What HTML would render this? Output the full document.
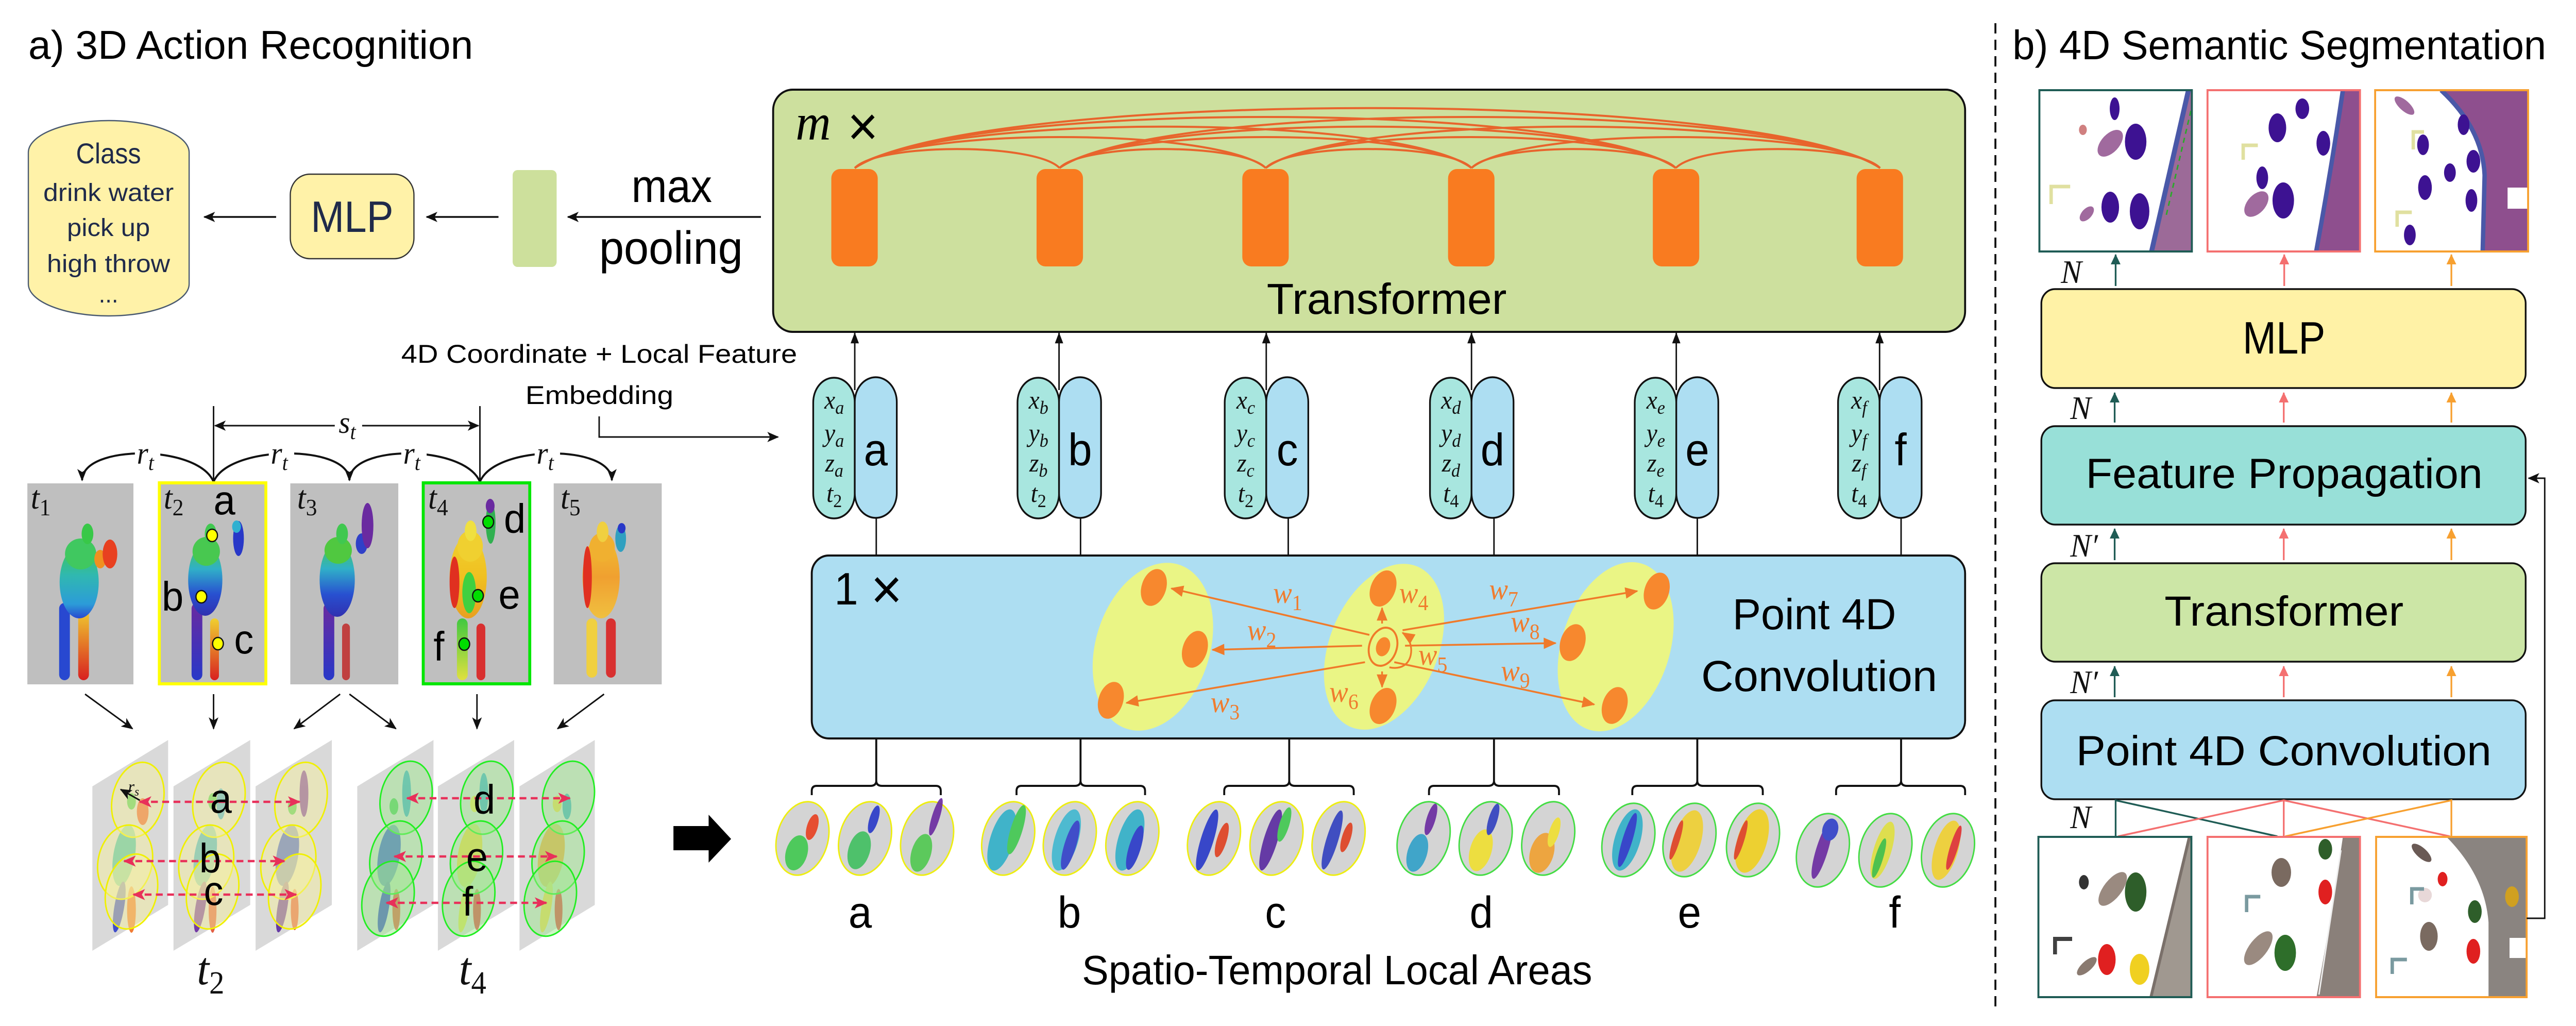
<!DOCTYPE html>
<html><head><meta charset="utf-8">
<style>
html,body{margin:0;padding:0;background:#fff;width:100%;height:100%;overflow:hidden;}
svg{display:block;width:100vw;height:100vh;}
.s{font-family:"Liberation Sans",sans-serif;}
.m{font-family:"Liberation Serif",serif;font-style:italic;}
</style></head><body>
<svg viewBox="0 0 5271 1991" preserveAspectRatio="none" xmlns="http://www.w3.org/2000/svg">
<defs>
<marker id="bk" viewBox="0 0 24 20" refX="22" refY="10" markerWidth="24" markerHeight="20" markerUnits="userSpaceOnUse" orient="auto-start-reverse"><path d="M0,0 L24,10 L0,20 L6,10z" fill="#111"/></marker>
<marker id="tri" viewBox="0 0 20 16" refX="19" refY="8" markerWidth="22" markerHeight="17" markerUnits="userSpaceOnUse" orient="auto"><path d="M0,0 L20,8 L0,16z" fill="#111"/></marker>
<marker id="rd" viewBox="0 0 24 20" refX="22" refY="10" markerWidth="26" markerHeight="22" markerUnits="userSpaceOnUse" orient="auto-start-reverse"><path d="M0,0 L24,10 L0,20 L6,10z" fill="#E8305A"/></marker>
<marker id="or" viewBox="0 0 24 20" refX="22" refY="10" markerWidth="28" markerHeight="22" markerUnits="userSpaceOnUse" orient="auto"><path d="M0,0 L24,10 L0,20z" fill="#F07A2A"/></marker>
<marker id="cT" viewBox="0 0 20 20" refX="19" refY="10" markerWidth="20" markerHeight="20" markerUnits="userSpaceOnUse" orient="auto"><path d="M0,0 L20,10 L0,20z" fill="#1F5C55"/></marker>
<marker id="cS" viewBox="0 0 20 20" refX="19" refY="10" markerWidth="20" markerHeight="20" markerUnits="userSpaceOnUse" orient="auto"><path d="M0,0 L20,10 L0,20z" fill="#F47070"/></marker>
<marker id="cO" viewBox="0 0 20 20" refX="19" refY="10" markerWidth="20" markerHeight="20" markerUnits="userSpaceOnUse" orient="auto"><path d="M0,0 L20,10 L0,20z" fill="#F7A030"/></marker>
<linearGradient id="gT1" x1="0" y1="0" x2="0" y2="1"><stop offset="0" stop-color="#40C850"/><stop offset="0.4" stop-color="#30B8B0"/><stop offset="0.8" stop-color="#2C9CD8"/><stop offset="1" stop-color="#2848D0"/></linearGradient>
<linearGradient id="gT2" x1="0" y1="0" x2="0" y2="1"><stop offset="0" stop-color="#48C850"/><stop offset="0.35" stop-color="#30B0C8"/><stop offset="0.7" stop-color="#2850D0"/><stop offset="1" stop-color="#3030B0"/></linearGradient>
<linearGradient id="gT4" x1="0" y1="0" x2="0" y2="1"><stop offset="0" stop-color="#F0D030"/><stop offset="0.5" stop-color="#F0C020"/><stop offset="1" stop-color="#E8A020"/></linearGradient>
<linearGradient id="gT5" x1="0" y1="0" x2="0" y2="1"><stop offset="0" stop-color="#F0C030"/><stop offset="0.5" stop-color="#F0A030"/><stop offset="1" stop-color="#F0C040"/></linearGradient>
<linearGradient id="gPB" x1="0" y1="0" x2="0" y2="1"><stop offset="0" stop-color="#6A2AA0"/><stop offset="1" stop-color="#2838C8"/></linearGradient>
<linearGradient id="gYR" x1="0" y1="0" x2="0" y2="1"><stop offset="0" stop-color="#F0D030"/><stop offset="1" stop-color="#D82020"/></linearGradient>
<linearGradient id="gGY" x1="0" y1="0" x2="0" y2="1"><stop offset="0" stop-color="#40C840"/><stop offset="1" stop-color="#E0E040"/></linearGradient>
<clipPath id="ci1"><rect x="4173" y="175" width="312" height="313"/></clipPath>
<clipPath id="ci2"><rect x="4517" y="175" width="312" height="313"/></clipPath>
<clipPath id="ci3"><rect x="4860" y="175" width="313" height="313"/></clipPath>
<clipPath id="ci4"><rect x="4171" y="1624" width="313" height="311"/></clipPath>
<clipPath id="ci5"><rect x="4517" y="1624" width="312" height="311"/></clipPath>
<clipPath id="ci6"><rect x="4862" y="1624" width="308" height="311"/></clipPath>
</defs>

<rect x="0" y="0" width="5271" height="1991" fill="#fff"/>

<!-- ===== a) title ===== -->
<text class="s" x="58" y="114" font-size="78" textLength="910" lengthAdjust="spacingAndGlyphs">a) 3D Action Recognition</text>

<!-- Class box -->
<rect x="58" y="234" width="329" height="379" rx="164" ry="62" fill="#FFF2A8" stroke="#4A5A70" stroke-width="2.5"/>
<g class="s" fill="#1F2A4A" text-anchor="middle">
<text x="222" y="317" font-size="56" textLength="133" lengthAdjust="spacingAndGlyphs">Class</text>
<text x="222" y="390" font-size="48" textLength="267" lengthAdjust="spacingAndGlyphs">drink water</text>
<text x="222" y="458" font-size="48" textLength="170" lengthAdjust="spacingAndGlyphs">pick up</text>
<text x="222" y="528" font-size="48" textLength="252" lengthAdjust="spacingAndGlyphs">high throw</text>
<text x="222" y="587" font-size="48">...</text>
</g>
<!-- MLP -->
<rect x="594" y="338" width="253" height="164" rx="40" fill="#FFF2A8" stroke="#333" stroke-width="2.5"/>
<text class="s" x="636" y="450" font-size="85" fill="#1F2A4A" textLength="169" lengthAdjust="spacingAndGlyphs">MLP</text>
<line x1="565" y1="421" x2="418" y2="421" stroke="#111" stroke-width="3.5" marker-end="url(#bk)"/>
<rect x="1049" y="330" width="90" height="188" rx="10" fill="#CDE09C"/>
<line x1="1020" y1="421" x2="873" y2="421" stroke="#111" stroke-width="3.5" marker-end="url(#bk)"/>
<line x1="1557" y1="421" x2="1162" y2="421" stroke="#111" stroke-width="3.5" marker-end="url(#bk)"/>
<text class="s" x="1292" y="392" font-size="90" textLength="165" lengthAdjust="spacingAndGlyphs">max</text>
<text class="s" x="1226" y="512" font-size="90" textLength="294" lengthAdjust="spacingAndGlyphs">pooling</text>

<!-- ===== Transformer (main) ===== -->
<rect x="1582" y="174" width="2439" height="470" rx="40" fill="#CDE09E" stroke="#111" stroke-width="4"/>
<text class="m" x="1628" y="271" font-size="100">m</text>
<text class="s" x="1734" y="282" font-size="108">×</text>
<g fill="none" stroke="#E8642C" stroke-width="4">
<path d="M1749,326 C1799,277 2118,277 2168,326"/>
<path d="M2168,326 C2218,277 2540,277 2590,326"/>
<path d="M2590,326 C2640,277 2961,277 3011,326"/>
<path d="M3011,326 C3061,277 3379,277 3429,326"/>
<path d="M3429,326 C3479,277 3797,277 3847,326"/>
<path d="M1749,326 C1849,246 2490,246 2590,326"/>
<path d="M2168,326 C2268,246 2911,246 3011,326"/>
<path d="M2590,326 C2690,246 3329,246 3429,326"/>
<path d="M3011,326 C3111,246 3747,246 3847,326"/>
<path d="M1749,326 C1899,219 2861,219 3011,326"/>
<path d="M2168,326 C2318,219 3279,219 3429,326"/>
<path d="M2590,326 C2740,219 3697,219 3847,326"/>
<path d="M1749,326 C1949,194 3229,194 3429,326"/>
<path d="M2168,326 C2368,194 3647,194 3847,326"/>
<path d="M1749,326 C1999,171 3597,171 3847,326"/>
</g>
<g fill="#F97B20">
<rect x="1701" y="328" width="95" height="189" rx="18"/>
<rect x="2121" y="328" width="95" height="189" rx="18"/>
<rect x="2542" y="328" width="95" height="189" rx="18"/>
<rect x="2963" y="328" width="95" height="189" rx="18"/>
<rect x="3382" y="328" width="95" height="189" rx="18"/>
<rect x="3799" y="328" width="95" height="189" rx="18"/>
</g>
<text class="s" x="2592" y="609" font-size="84" textLength="491" lengthAdjust="spacingAndGlyphs">Transformer</text>

<!-- 4D coordinate embedding label -->
<text class="s" x="821" y="704" font-size="50" textLength="810" lengthAdjust="spacingAndGlyphs">4D Coordinate + Local Feature</text>
<text class="s" x="1075" y="784" font-size="50" textLength="303" lengthAdjust="spacingAndGlyphs">Embedding</text>
<path d="M1226,808 V848 H1592" fill="none" stroke="#111" stroke-width="3" marker-end="url(#bk)"/>

<!-- ===== Embedding columns ===== -->
<g stroke="#111" stroke-width="3">
<line x1="1749" y1="757" x2="1749" y2="646" marker-end="url(#tri)"/>
<line x1="2167" y1="757" x2="2167" y2="646" marker-end="url(#tri)"/>
<line x1="2591" y1="757" x2="2591" y2="646" marker-end="url(#tri)"/>
<line x1="3011" y1="757" x2="3011" y2="646" marker-end="url(#tri)"/>
<line x1="3430" y1="757" x2="3430" y2="646" marker-end="url(#tri)"/>
<line x1="3846" y1="757" x2="3846" y2="646" marker-end="url(#tri)"/>
<line x1="1793" y1="1005" x2="1793" y2="1078"/>
<line x1="2211" y1="1005" x2="2211" y2="1078"/>
<line x1="2636" y1="1005" x2="2636" y2="1078"/>
<line x1="3057" y1="1005" x2="3057" y2="1078"/>
<line x1="3473" y1="1005" x2="3473" y2="1078"/>
<line x1="3890" y1="1005" x2="3890" y2="1078"/>
</g>
<g stroke="#111" stroke-width="3.5">
<rect x="1664" y="733" width="85" height="273" rx="42" ry="48" fill="#A8E6DF"/>
<rect x="1749" y="732" width="86" height="273" rx="43" ry="48" fill="#ADDEF2"/>
<rect x="2082" y="733" width="85" height="273" rx="42" ry="48" fill="#A8E6DF"/>
<rect x="2167" y="732" width="86" height="273" rx="43" ry="48" fill="#ADDEF2"/>
<rect x="2506" y="733" width="85" height="273" rx="42" ry="48" fill="#A8E6DF"/>
<rect x="2591" y="732" width="86" height="273" rx="43" ry="48" fill="#ADDEF2"/>
<rect x="2926" y="733" width="85" height="273" rx="42" ry="48" fill="#A8E6DF"/>
<rect x="3011" y="732" width="86" height="273" rx="43" ry="48" fill="#ADDEF2"/>
<rect x="3345" y="733" width="85" height="273" rx="42" ry="48" fill="#A8E6DF"/>
<rect x="3430" y="732" width="86" height="273" rx="43" ry="48" fill="#ADDEF2"/>
<rect x="3761" y="733" width="85" height="273" rx="42" ry="48" fill="#A8E6DF"/>
<rect x="3846" y="732" width="86" height="273" rx="43" ry="48" fill="#ADDEF2"/>
</g>
<g class="s" font-size="88" text-anchor="middle" fill="#000">
<text x="1792" y="903">a</text>
<text x="2210" y="903">b</text>
<text x="2634" y="903">c</text>
<text x="3054" y="903">d</text>
<text x="3473" y="903">e</text>
<text x="3889" y="903">f</text>
</g>
<g class="m" font-size="50" text-anchor="middle" fill="#111">
<text x="1707" y="793">x<tspan font-size="36" dy="10">a</tspan></text>
<text x="1707" y="857">y<tspan font-size="36" dy="10">a</tspan></text>
<text x="1707" y="915">z<tspan font-size="36" dy="10">a</tspan></text>
<text x="1707" y="974">t<tspan font-size="36" dy="10" font-style="normal">2</tspan></text>
<text x="2125" y="793">x<tspan font-size="36" dy="10">b</tspan></text>
<text x="2125" y="857">y<tspan font-size="36" dy="10">b</tspan></text>
<text x="2125" y="915">z<tspan font-size="36" dy="10">b</tspan></text>
<text x="2125" y="974">t<tspan font-size="36" dy="10" font-style="normal">2</tspan></text>
<text x="2549" y="793">x<tspan font-size="36" dy="10">c</tspan></text>
<text x="2549" y="857">y<tspan font-size="36" dy="10">c</tspan></text>
<text x="2549" y="915">z<tspan font-size="36" dy="10">c</tspan></text>
<text x="2549" y="974">t<tspan font-size="36" dy="10" font-style="normal">2</tspan></text>
<text x="2969" y="793">x<tspan font-size="36" dy="10">d</tspan></text>
<text x="2969" y="857">y<tspan font-size="36" dy="10">d</tspan></text>
<text x="2969" y="915">z<tspan font-size="36" dy="10">d</tspan></text>
<text x="2969" y="974">t<tspan font-size="36" dy="10" font-style="normal">4</tspan></text>
<text x="3388" y="793">x<tspan font-size="36" dy="10">e</tspan></text>
<text x="3388" y="857">y<tspan font-size="36" dy="10">e</tspan></text>
<text x="3388" y="915">z<tspan font-size="36" dy="10">e</tspan></text>
<text x="3388" y="974">t<tspan font-size="36" dy="10" font-style="normal">4</tspan></text>
<text x="3804" y="793">x<tspan font-size="36" dy="10">f</tspan></text>
<text x="3804" y="857">y<tspan font-size="36" dy="10">f</tspan></text>
<text x="3804" y="915">z<tspan font-size="36" dy="10">f</tspan></text>
<text x="3804" y="974">t<tspan font-size="36" dy="10" font-style="normal">4</tspan></text>
</g>

<!-- ===== Point 4D Convolution (main) ===== -->
<rect x="1661" y="1078" width="2360" height="355" rx="35" fill="#ADDEF2" stroke="#111" stroke-width="4"/>
<text class="s" x="1707" y="1173" font-size="88">1</text>
<text class="s" x="1782" y="1181" font-size="110">×</text>
<ellipse cx="2359" cy="1255" rx="116" ry="168" transform="rotate(20 2359 1255)" fill="#EAF585"/>
<ellipse cx="2832" cy="1255" rx="110" ry="170" transform="rotate(25 2832 1255)" fill="#EAF585"/>
<ellipse cx="3306" cy="1255" rx="110" ry="170" transform="rotate(20 3306 1255)" fill="#EAF585"/>
<g fill="#F7882E">
<ellipse cx="2361" cy="1140" rx="25" ry="37" transform="rotate(20 2361 1140)"/>
<ellipse cx="2445" cy="1260" rx="25" ry="37" transform="rotate(20 2445 1260)"/>
<ellipse cx="2273" cy="1359" rx="25" ry="37" transform="rotate(20 2273 1359)"/>
<ellipse cx="2830" cy="1142" rx="25" ry="37" transform="rotate(25 2830 1142)"/>
<ellipse cx="2830" cy="1370" rx="25" ry="37" transform="rotate(25 2830 1370)"/>
<ellipse cx="3390" cy="1147" rx="25" ry="37" transform="rotate(20 3390 1147)"/>
<ellipse cx="3218" cy="1247" rx="25" ry="37" transform="rotate(20 3218 1247)"/>
<ellipse cx="3304" cy="1369" rx="25" ry="37" transform="rotate(20 3304 1369)"/>
<ellipse cx="2830" cy="1255" rx="14" ry="19" transform="rotate(20 2830 1255)"/>
</g>
<ellipse cx="2830" cy="1255" rx="28" ry="38" transform="rotate(20 2830 1255)" fill="none" stroke="#F07A2A" stroke-width="4"/>
<g stroke="#F07A2A" stroke-width="3.5" fill="none">
<line x1="2802" y1="1232" x2="2397" y2="1142" marker-end="url(#or)"/>
<line x1="2787" y1="1253" x2="2481" y2="1261" marker-end="url(#or)"/>
<line x1="2793" y1="1285" x2="2305" y2="1364" marker-end="url(#or)"/>
<line x1="2870" y1="1223" x2="3350" y2="1147" marker-end="url(#or)"/>
<line x1="2875" y1="1253" x2="3183" y2="1248" marker-end="url(#or)"/>
<line x1="2853" y1="1285" x2="3262" y2="1367" marker-end="url(#or)"/>
<line x1="2828" y1="1210" x2="2828" y2="1180" marker-end="url(#or)"/>
<line x1="2828" y1="1303" x2="2828" y2="1333" marker-end="url(#or)"/>
<path d="M2843,1295 C2895,1305 2898,1245 2870,1228" marker-end="url(#or)"/>
</g>
<g class="m" font-size="58" fill="#F07C2E">
<text x="2605" y="1170">w<tspan font-size="42" dy="14" font-style="normal">1</tspan></text>
<text x="2552" y="1242">w<tspan font-size="42" dy="14" font-style="normal">2</tspan></text>
<text x="2477" y="1382">w<tspan font-size="42" dy="14" font-style="normal">3</tspan></text>
<text x="2863" y="1170">w<tspan font-size="42" dy="14" font-style="normal">4</tspan></text>
<text x="2902" y="1290">w<tspan font-size="42" dy="14" font-style="normal">5</tspan></text>
<text x="2720" y="1362">w<tspan font-size="42" dy="14" font-style="normal">6</tspan></text>
<text x="3047" y="1163">w<tspan font-size="42" dy="14" font-style="normal">7</tspan></text>
<text x="3091" y="1226">w<tspan font-size="42" dy="14" font-style="normal">8</tspan></text>
<text x="3071" y="1321">w<tspan font-size="42" dy="14" font-style="normal">9</tspan></text>
</g>
<text class="s" x="3545" y="1221" font-size="84" textLength="335" lengthAdjust="spacingAndGlyphs">Point 4D</text>
<text class="s" x="3481" y="1341" font-size="84" textLength="483" lengthAdjust="spacingAndGlyphs">Convolution</text>

<!-- ===== Bottom local areas ===== -->
<g fill="none" stroke="#111" stroke-width="4">
<line x1="1793" y1="1433" x2="1793" y2="1515"/>
<line x1="2211" y1="1433" x2="2211" y2="1515"/>
<line x1="2638" y1="1433" x2="2638" y2="1515"/>
<line x1="3057" y1="1433" x2="3057" y2="1515"/>
<line x1="3473" y1="1433" x2="3473" y2="1515"/>
<line x1="3890" y1="1433" x2="3890" y2="1515"/>
<path d="M1661,1543 V1535 Q1661,1525 1671,1525 H1781 Q1793,1525 1793,1515 Q1793,1525 1805,1525 H1915 Q1925,1525 1925,1535 V1543"/>
<path d="M2080,1543 V1535 Q2080,1525 2090,1525 H2199 Q2211,1525 2211,1515 Q2211,1525 2223,1525 H2333 Q2343,1525 2343,1535 V1543"/>
<path d="M2505,1543 V1535 Q2505,1525 2515,1525 H2626 Q2638,1525 2638,1515 Q2638,1525 2650,1525 H2760 Q2770,1525 2770,1535 V1543"/>
<path d="M2924,1543 V1535 Q2924,1525 2934,1525 H3045 Q3057,1525 3057,1515 Q3057,1525 3069,1525 H3180 Q3190,1525 3190,1535 V1543"/>
<path d="M3340,1543 V1535 Q3340,1525 3350,1525 H3461 Q3473,1525 3473,1515 Q3473,1525 3485,1525 H3597 Q3607,1525 3607,1535 V1543"/>
<path d="M3757,1543 V1535 Q3757,1525 3767,1525 H3878 Q3890,1525 3890,1515 Q3890,1525 3902,1525 H4011 Q4021,1525 4021,1535 V1543"/>
</g>
<!-- small ellipses -->
<g stroke-width="3">
<g stroke="#EEEE10">
<ellipse cx="1642" cy="1627" rx="52" ry="73" transform="rotate(18 1642 1627)" fill="#D4D4D4"/>
<ellipse cx="1770" cy="1627" rx="52" ry="73" transform="rotate(18 1770 1627)" fill="#D4D4D4"/>
<ellipse cx="1897" cy="1627" rx="52" ry="73" transform="rotate(18 1897 1627)" fill="#D4D4D4"/>
<ellipse cx="2063" cy="1627" rx="52" ry="73" transform="rotate(18 2063 1627)" fill="#D4D4D4"/>
<ellipse cx="2189" cy="1627" rx="52" ry="73" transform="rotate(18 2189 1627)" fill="#D4D4D4"/>
<ellipse cx="2317" cy="1627" rx="52" ry="73" transform="rotate(18 2317 1627)" fill="#D4D4D4"/>
<ellipse cx="2484" cy="1627" rx="52" ry="73" transform="rotate(18 2484 1627)" fill="#D4D4D4"/>
<ellipse cx="2612" cy="1627" rx="52" ry="73" transform="rotate(18 2612 1627)" fill="#D4D4D4"/>
<ellipse cx="2739" cy="1627" rx="52" ry="73" transform="rotate(18 2739 1627)" fill="#D4D4D4"/>
</g>
<g stroke="#44DD44">
<ellipse cx="2913" cy="1627" rx="52" ry="73" transform="rotate(18 2913 1627)" fill="#D4D4D4"/>
<ellipse cx="3040" cy="1627" rx="52" ry="73" transform="rotate(18 3040 1627)" fill="#D4D4D4"/>
<ellipse cx="3168" cy="1627" rx="52" ry="73" transform="rotate(18 3168 1627)" fill="#D4D4D4"/>
<ellipse cx="3332" cy="1630" rx="52" ry="73" transform="rotate(18 3332 1630)" fill="#D4D4D4"/>
<ellipse cx="3457" cy="1630" rx="52" ry="73" transform="rotate(18 3457 1630)" fill="#D4D4D4"/>
<ellipse cx="3587" cy="1630" rx="52" ry="73" transform="rotate(18 3587 1630)" fill="#D4D4D4"/>
<ellipse cx="3730" cy="1650" rx="52" ry="73" transform="rotate(18 3730 1650)" fill="#D4D4D4"/>
<ellipse cx="3858" cy="1650" rx="52" ry="73" transform="rotate(18 3858 1650)" fill="#D4D4D4"/>
<ellipse cx="3986" cy="1650" rx="52" ry="73" transform="rotate(18 3986 1650)" fill="#D4D4D4"/>
</g>
</g>
<g opacity="0.9">
<ellipse cx="1630" cy="1655" rx="22" ry="35" transform="rotate(18 1630 1655)" fill="#40C850"/><ellipse cx="1662" cy="1605" rx="11" ry="26" transform="rotate(18 1662 1605)" fill="#E84020"/>
<ellipse cx="1758" cy="1650" rx="22" ry="38" transform="rotate(18 1758 1650)" fill="#40C060"/><ellipse cx="1788" cy="1590" rx="9" ry="28" transform="rotate(18 1788 1590)" fill="#2838C8"/>
<ellipse cx="1885" cy="1655" rx="20" ry="38" transform="rotate(18 1885 1655)" fill="#50C850"/><ellipse cx="1915" cy="1585" rx="8" ry="38" transform="rotate(18 1915 1585)" fill="#6A2AA0"/>
<ellipse cx="2050" cy="1630" rx="24" ry="62" transform="rotate(18 2050 1630)" fill="#30B0C8"/><ellipse cx="2080" cy="1610" rx="12" ry="50" transform="rotate(18 2080 1610)" fill="#40C850"/>
<ellipse cx="2182" cy="1630" rx="24" ry="62" transform="rotate(18 2182 1630)" fill="#40B8D0"/><ellipse cx="2190" cy="1640" rx="12" ry="50" transform="rotate(18 2190 1640)" fill="#3040C8"/>
<ellipse cx="2312" cy="1630" rx="24" ry="62" transform="rotate(18 2312 1630)" fill="#30B0C8"/><ellipse cx="2322" cy="1645" rx="12" ry="45" transform="rotate(18 2322 1645)" fill="#2838C8"/>
<ellipse cx="2470" cy="1630" rx="13" ry="62" transform="rotate(18 2470 1630)" fill="#2838C8"/><ellipse cx="2500" cy="1630" rx="10" ry="35" transform="rotate(18 2500 1630)" fill="#E04020"/>
<ellipse cx="2600" cy="1630" rx="14" ry="62" transform="rotate(18 2600 1630)" fill="#5A2AA0"/><ellipse cx="2628" cy="1600" rx="10" ry="35" transform="rotate(18 2628 1600)" fill="#40C850"/>
<ellipse cx="2726" cy="1630" rx="12" ry="60" transform="rotate(18 2726 1630)" fill="#3040C0"/><ellipse cx="2755" cy="1625" rx="9" ry="30" transform="rotate(18 2755 1625)" fill="#E04020"/>
<ellipse cx="2900" cy="1655" rx="20" ry="38" transform="rotate(18 2900 1655)" fill="#30A0C8"/><ellipse cx="2928" cy="1590" rx="9" ry="32" transform="rotate(18 2928 1590)" fill="#6A2AA0"/>
<ellipse cx="3030" cy="1650" rx="22" ry="42" transform="rotate(18 3030 1650)" fill="#F0E030"/><ellipse cx="3055" cy="1590" rx="9" ry="32" transform="rotate(18 3055 1590)" fill="#3040C0"/>
<ellipse cx="3155" cy="1655" rx="24" ry="40" transform="rotate(18 3155 1655)" fill="#F0A030"/><ellipse cx="3180" cy="1615" rx="10" ry="30" transform="rotate(18 3180 1615)" fill="#F0E030"/>
<ellipse cx="3330" cy="1630" rx="26" ry="62" transform="rotate(18 3330 1630)" fill="#30B0C8"/><ellipse cx="3330" cy="1630" rx="10" ry="55" transform="rotate(18 3330 1630)" fill="#2838C8"/>
<ellipse cx="3452" cy="1632" rx="28" ry="62" transform="rotate(18 3452 1632)" fill="#F0D030"/><ellipse cx="3430" cy="1630" rx="7" ry="40" transform="rotate(18 3430 1630)" fill="#E04020"/>
<ellipse cx="3585" cy="1632" rx="30" ry="64" transform="rotate(18 3585 1632)" fill="#F0D020"/><ellipse cx="3562" cy="1630" rx="7" ry="40" transform="rotate(18 3562 1630)" fill="#E04020"/>
<ellipse cx="3728" cy="1650" rx="12" ry="58" transform="rotate(18 3728 1650)" fill="#6A2AA0"/><ellipse cx="3745" cy="1610" rx="16" ry="22" transform="rotate(18 3745 1610)" fill="#3040C8"/>
<ellipse cx="3852" cy="1650" rx="18" ry="58" transform="rotate(18 3852 1650)" fill="#E0E040"/><ellipse cx="3845" cy="1665" rx="8" ry="40" transform="rotate(18 3845 1665)" fill="#40C040"/>
<ellipse cx="3982" cy="1650" rx="24" ry="60" transform="rotate(18 3982 1650)" fill="#F0D030"/><ellipse cx="3998" cy="1645" rx="8" ry="45" transform="rotate(18 3998 1645)" fill="#E03030"/>
</g>
<g class="s" font-size="86" text-anchor="middle" fill="#000">
<text x="1760" y="1800">a</text>
<text x="2188" y="1800">b</text>
<text x="2610" y="1800">c</text>
<text x="3031" y="1800">d</text>
<text x="3457" y="1800">e</text>
<text x="3877" y="1800">f</text>
</g>
<text class="s" x="2214" y="1910" font-size="80" textLength="1044" lengthAdjust="spacingAndGlyphs">Spatio-Temporal Local Areas</text>

<!-- ===== s_t / r_t ===== -->
<g stroke="#111" stroke-width="3" fill="none">
<line x1="437" y1="788" x2="437" y2="935"/>
<line x1="982" y1="788" x2="982" y2="935"/>
<line x1="685" y1="826" x2="440" y2="826" marker-end="url(#bk)"/>
<line x1="741" y1="826" x2="979" y2="826" marker-end="url(#bk)"/>
</g>
<g stroke="#111" stroke-width="4" fill="none">
<path d="M437,935 C405,862 168,862 168,932" marker-end="url(#bk)"/>
<path d="M437,935 C469,862 715,862 715,932" marker-end="url(#bk)"/>
<path d="M982,935 C950,862 715,862 715,932" marker-end="url(#bk)"/>
<path d="M982,935 C1014,862 1252,862 1252,932" marker-end="url(#bk)"/>
</g>
<g fill="#fff">
<rect x="276" y="858" width="52" height="60"/>
<rect x="550" y="858" width="52" height="60"/>
<rect x="821" y="858" width="52" height="60"/>
<rect x="1094" y="858" width="52" height="60"/>
</g>
<g class="m" font-size="60" fill="#111">
<text x="693" y="840">s<tspan font-size="42" dy="12">t</tspan></text>
<text x="280" y="900">r<tspan font-size="42" dy="12">t</tspan></text>
<text x="554" y="900">r<tspan font-size="42" dy="12">t</tspan></text>
<text x="825" y="900">r<tspan font-size="42" dy="12">t</tspan></text>
<text x="1098" y="900">r<tspan font-size="42" dy="12">t</tspan></text>
</g>

<!-- ===== frames ===== -->
<rect x="56" y="938" width="217" height="390" fill="#BFBFBF"/>
<rect x="326" y="937" width="218" height="390" fill="#BFBFBF" stroke="#FFFF00" stroke-width="6"/>
<rect x="594" y="938" width="221" height="390" fill="#BFBFBF"/>
<rect x="866" y="937" width="218" height="390" fill="#BFBFBF" stroke="#00E600" stroke-width="6"/>
<rect x="1133" y="938" width="221" height="390" fill="#BFBFBF"/>

<!-- figure t1 -->
<rect x="121" y="1170" width="22" height="150" rx="11" fill="#2848D0"/>
<rect x="160" y="1180" width="22" height="140" rx="11" fill="url(#gYR)"/>
<ellipse cx="162" cy="1130" rx="40" ry="70" fill="url(#gT1)"/>
<ellipse cx="165" cy="1075" rx="32" ry="30" fill="#40C860"/>
<ellipse cx="179" cy="1036" rx="12" ry="20" fill="#38C848"/>
<ellipse cx="205" cy="1085" rx="12" ry="18" fill="#F09020"/>
<ellipse cx="225" cy="1075" rx="15" ry="28" fill="#E84020"/>
<!-- figure t2 -->
<rect x="392" y="1170" width="22" height="150" rx="11" fill="url(#gPB)"/>
<rect x="430" y="1200" width="18" height="120" rx="9" fill="url(#gYR)"/>
<ellipse cx="420" cy="1125" rx="35" ry="70" fill="url(#gT2)"/>
<ellipse cx="422" cy="1070" rx="28" ry="28" fill="#48C850"/>
<ellipse cx="431" cy="1036" rx="12" ry="20" fill="#40C850"/>
<ellipse cx="488" cy="1045" rx="11" ry="34" fill="#2838C8"/>
<ellipse cx="484" cy="1022" rx="9" ry="12" fill="#30B0D0"/>
<!-- figure t3 -->
<rect x="662" y="1170" width="22" height="150" rx="11" fill="url(#gPB)"/>
<rect x="700" y="1210" width="16" height="110" rx="8" fill="#C04040"/>
<ellipse cx="690" cy="1125" rx="36" ry="72" fill="url(#gT2)"/>
<ellipse cx="692" cy="1068" rx="28" ry="26" fill="#50C840"/>
<ellipse cx="700" cy="1036" rx="12" ry="20" fill="#40C850"/>
<ellipse cx="740" cy="1055" rx="12" ry="20" fill="#3040C8"/>
<ellipse cx="752" cy="1020" rx="12" ry="44" fill="#6A2AA0"/>
<!-- figure t4 -->
<rect x="935" y="1200" width="22" height="120" rx="11" fill="url(#gGY)"/>
<rect x="975" y="1210" width="18" height="110" rx="9" fill="#D83030"/>
<ellipse cx="958" cy="1120" rx="38" ry="80" fill="url(#gT4)"/>
<ellipse cx="930" cy="1130" rx="10" ry="50" fill="#E03020"/>
<ellipse cx="960" cy="1150" rx="14" ry="40" fill="#40D040"/>
<ellipse cx="962" cy="1060" rx="26" ry="30" fill="#F0D030"/>
<ellipse cx="963" cy="1030" rx="12" ry="20" fill="#F0E040"/>
<ellipse cx="1004" cy="1015" rx="10" ry="40" fill="#30B050"/>
<ellipse cx="1003" cy="982" rx="9" ry="14" fill="#6A2AA0"/>
<!-- figure t5 -->
<rect x="1200" y="1200" width="22" height="115" rx="11" fill="#F0D040"/>
<rect x="1240" y="1200" width="20" height="115" rx="10" fill="#D83030"/>
<ellipse cx="1230" cy="1120" rx="38" ry="80" fill="url(#gT5)"/>
<ellipse cx="1202" cy="1120" rx="9" ry="60" fill="#E03020"/>
<ellipse cx="1232" cy="1062" rx="26" ry="28" fill="#F0B030"/>
<ellipse cx="1233" cy="1032" rx="12" ry="20" fill="#F0D040"/>
<ellipse cx="1270" cy="1045" rx="11" ry="26" fill="#30A0C0"/>
<ellipse cx="1272" cy="1025" rx="8" ry="10" fill="#2838C8"/>
<!-- markers on frames -->
<g stroke="#111" stroke-width="2.5">
<ellipse cx="434" cy="1039" rx="11" ry="12" fill="#FFFF00"/>
<ellipse cx="412" cy="1158" rx="11" ry="12" fill="#FFFF00"/>
<ellipse cx="446" cy="1249" rx="11" ry="12" fill="#FFFF00"/>
<ellipse cx="999" cy="1013" rx="11" ry="12" fill="#00DD00"/>
<ellipse cx="978" cy="1156" rx="11" ry="12" fill="#00DD00"/>
<ellipse cx="950" cy="1250" rx="11" ry="12" fill="#00DD00"/>
</g>
<g class="s" font-size="80" fill="#000">
<text x="437" y="998">a</text>
<text x="331" y="1185">b</text>
<text x="479" y="1268">c</text>
<text x="1031" y="1034">d</text>
<text x="1020" y="1181">e</text>
<text x="887" y="1282">f</text>
</g>
<g class="m" font-size="64" fill="#111">
<text x="63" y="987">t<tspan font-size="46" dy="13" font-style="normal">1</tspan></text>
<text x="335" y="987">t<tspan font-size="46" dy="13" font-style="normal">2</tspan></text>
<text x="608" y="987">t<tspan font-size="46" dy="13" font-style="normal">3</tspan></text>
<text x="876" y="987">t<tspan font-size="46" dy="13" font-style="normal">4</tspan></text>
<text x="1147" y="987">t<tspan font-size="46" dy="13" font-style="normal">5</tspan></text>
</g>

<!-- arrows frames -> slices -->
<g stroke="#111" stroke-width="3">
<line x1="174" y1="1347" x2="271" y2="1414" marker-end="url(#bk)"/>
<line x1="437" y1="1347" x2="437" y2="1414" marker-end="url(#bk)"/>
<line x1="696" y1="1347" x2="602" y2="1414" marker-end="url(#bk)"/>
<line x1="715" y1="1347" x2="810" y2="1414" marker-end="url(#bk)"/>
<line x1="976" y1="1347" x2="976" y2="1414" marker-end="url(#bk)"/>
<line x1="1236" y1="1347" x2="1141" y2="1414" marker-end="url(#bk)"/>
</g>

<!-- slices -->
<g fill="#D9D9D9">
<polygon points="189,1526 344,1436 344,1756 189,1845"/>
<polygon points="355,1526 512,1436 512,1756 355,1845"/>
<polygon points="523,1526 679,1436 679,1756 523,1845"/>
<polygon points="731,1526 887,1436 887,1756 731,1845"/>
<polygon points="896,1526 1052,1436 1052,1756 896,1845"/>
<polygon points="1063,1526 1217,1436 1217,1756 1063,1845"/>
</g>
<!-- slice figures -->
<g opacity="0.9">
<ellipse cx="269" cy="1555" rx="9" ry="16" fill="#40C850"/><ellipse cx="292" cy="1575" rx="12" ry="26" fill="#E85020"/>
<ellipse cx="254" cy="1660" rx="22" ry="60" transform="rotate(10 254 1660)" fill="#30B8A8"/>
<ellipse cx="244" cy="1760" rx="10" ry="50" transform="rotate(10 244 1760)" fill="#3040C8"/><ellipse cx="269" cy="1765" rx="9" ry="45" fill="#F07020"/>
<ellipse cx="435" cy="1555" rx="9" ry="16" fill="#40C850"/><ellipse cx="452" cy="1560" rx="9" ry="30" fill="#30A0D0"/>
<ellipse cx="420" cy="1660" rx="22" ry="60" transform="rotate(10 420 1660)" fill="#30A8C8"/>
<ellipse cx="410" cy="1760" rx="10" ry="50" transform="rotate(10 410 1760)" fill="#6A2AA0"/><ellipse cx="435" cy="1765" rx="8" ry="45" fill="#E05030"/>
<ellipse cx="598" cy="1565" rx="9" ry="16" fill="#40C850"/><ellipse cx="622" cy="1540" rx="9" ry="45" fill="#6A2AA0"/>
<ellipse cx="588" cy="1660" rx="22" ry="60" transform="rotate(10 588 1660)" fill="#3050D0"/>
<ellipse cx="578" cy="1760" rx="10" ry="50" transform="rotate(10 578 1760)" fill="#5A2AA0"/><ellipse cx="603" cy="1765" rx="8" ry="40" fill="#E05030"/>
<ellipse cx="806" cy="1565" rx="9" ry="16" fill="#40C850"/><ellipse cx="832" cy="1540" rx="9" ry="45" fill="#30A0C8"/>
<ellipse cx="796" cy="1660" rx="22" ry="60" transform="rotate(10 796 1660)" fill="#3050D0"/>
<ellipse cx="786" cy="1760" rx="10" ry="50" transform="rotate(10 786 1760)" fill="#2838C8"/><ellipse cx="811" cy="1765" rx="8" ry="40" fill="#E05030"/>
<ellipse cx="971" cy="1560" rx="9" ry="16" fill="#F0E040"/><ellipse cx="990" cy="1540" rx="9" ry="40" fill="#30A0C8"/>
<ellipse cx="961" cy="1660" rx="24" ry="62" transform="rotate(10 961 1660)" fill="#F0D030"/>
<ellipse cx="951" cy="1760" rx="10" ry="50" transform="rotate(10 951 1760)" fill="#E0E040"/><ellipse cx="976" cy="1765" rx="8" ry="40" fill="#E03030"/>
<ellipse cx="1140" cy="1560" rx="9" ry="16" fill="#F0D040"/><ellipse cx="1160" cy="1565" rx="9" ry="25" fill="#30A0C0"/>
<ellipse cx="1128" cy="1660" rx="26" ry="62" transform="rotate(10 1128 1660)" fill="#F0A030"/>
<ellipse cx="1118" cy="1760" rx="10" ry="50" transform="rotate(10 1118 1760)" fill="#F0D040"/><ellipse cx="1143" cy="1765" rx="8" ry="40" fill="#E03030"/>
</g>
<!-- slice ellipses -->
<g stroke="#F0F000" stroke-width="3" fill="#F5F0A0" fill-opacity="0.5">
<ellipse cx="282" cy="1552" rx="52" ry="74" transform="rotate(15 282 1552)"/>
<ellipse cx="256" cy="1673" rx="55" ry="73" transform="rotate(15 256 1673)"/>
<ellipse cx="269" cy="1730" rx="52" ry="74" transform="rotate(15 269 1730)"/>
<ellipse cx="448" cy="1552" rx="52" ry="74" transform="rotate(15 448 1552)"/>
<ellipse cx="422" cy="1673" rx="55" ry="73" transform="rotate(15 422 1673)"/>
<ellipse cx="435" cy="1730" rx="52" ry="74" transform="rotate(15 435 1730)"/>
<ellipse cx="616" cy="1552" rx="52" ry="74" transform="rotate(15 616 1552)"/>
<ellipse cx="590" cy="1673" rx="55" ry="73" transform="rotate(15 590 1673)"/>
<ellipse cx="603" cy="1730" rx="52" ry="74" transform="rotate(15 603 1730)"/>
</g>
<g stroke="#22EE22" stroke-width="3" fill="#A0E890" fill-opacity="0.5">
<ellipse cx="831" cy="1548" rx="52" ry="72" transform="rotate(15 831 1548)"/>
<ellipse cx="810" cy="1664" rx="52" ry="72" transform="rotate(15 810 1664)"/>
<ellipse cx="794" cy="1744" rx="52" ry="74" transform="rotate(15 794 1744)"/>
<ellipse cx="996" cy="1548" rx="52" ry="72" transform="rotate(15 996 1548)"/>
<ellipse cx="975" cy="1664" rx="52" ry="72" transform="rotate(15 975 1664)"/>
<ellipse cx="959" cy="1744" rx="52" ry="74" transform="rotate(15 959 1744)"/>
<ellipse cx="1163" cy="1548" rx="52" ry="72" transform="rotate(15 1163 1548)"/>
<ellipse cx="1142" cy="1664" rx="52" ry="72" transform="rotate(15 1142 1664)"/>
<ellipse cx="1126" cy="1744" rx="52" ry="74" transform="rotate(15 1126 1744)"/>
</g>
<g stroke="#E8305A" stroke-width="4.5" stroke-dasharray="14 9">
<line x1="286" y1="1556" x2="613" y2="1556" marker-start="url(#rd)" marker-end="url(#rd)"/>
<line x1="254" y1="1671" x2="582" y2="1671" marker-start="url(#rd)" marker-end="url(#rd)"/>
<line x1="273" y1="1736" x2="606" y2="1736" marker-start="url(#rd)" marker-end="url(#rd)"/>
<line x1="833" y1="1549" x2="1166" y2="1549" marker-start="url(#rd)" marker-end="url(#rd)"/>
<line x1="807" y1="1662" x2="1139" y2="1662" marker-start="url(#rd)" marker-end="url(#rd)"/>
<line x1="791" y1="1752" x2="1118" y2="1752" marker-start="url(#rd)" marker-end="url(#rd)"/>
</g>
<g class="s" font-size="80" text-anchor="middle" fill="#000">
<text x="452" y="1577">a</text>
<text x="430" y="1693">b</text>
<text x="437" y="1756">c</text>
<text x="991" y="1579">d</text>
<text x="976" y="1690">e</text>
<text x="957" y="1777">f</text>
</g>
<line x1="286" y1="1553" x2="247" y2="1532" stroke="#111" stroke-width="3" marker-end="url(#bk)"/>
<text class="m" x="262" y="1538" font-size="34" fill="#111">r<tspan font-size="24" dy="6">s</tspan></text>
<g class="m" font-size="90" fill="#111">
<text x="403" y="1910">t<tspan font-size="62" dy="18" font-style="normal">2</tspan></text>
<text x="939" y="1910">t<tspan font-size="62" dy="18" font-style="normal">4</tspan></text>
</g>
<polygon points="1378,1603 1450,1603 1450,1581 1496,1628 1450,1674 1450,1650 1378,1650" fill="#000"/>

<!-- ===== b) right panel ===== -->
<line x1="4083" y1="45" x2="4083" y2="1954" stroke="#111" stroke-width="4" stroke-dasharray="20 12"/>
<text class="s" x="4118" y="115" font-size="80" textLength="1092" lengthAdjust="spacingAndGlyphs">b) 4D Semantic Segmentation</text>

<!-- top image 1 -->
<g clip-path="url(#ci1)">
<rect x="4173" y="175" width="312" height="313" fill="#fff"/>
<polygon points="4478,175 4490,175 4490,490 4402,490" fill="#9C6A98"/>
<line x1="4478" y1="175" x2="4402" y2="490" stroke="#4A58A8" stroke-width="10"/>
<line x1="4483" y1="215" x2="4432" y2="420" stroke="#2AAA2A" stroke-width="3" stroke-dasharray="10 8"/>
<ellipse cx="4327" cy="211" rx="10" ry="22" fill="#3D1292"/>
<ellipse cx="4370" cy="275" rx="22" ry="35" fill="#3D1292"/>
<ellipse cx="4378" cy="410" rx="20" ry="35" fill="#3D1292"/>
<ellipse cx="4318" cy="402" rx="18" ry="30" fill="#3D1292"/>
<ellipse cx="4318" cy="278" rx="32" ry="18" transform="rotate(-45 4318 278)" fill="#A06A9E"/>
<ellipse cx="4270" cy="415" rx="18" ry="10" transform="rotate(-45 4270 415)" fill="#A06A9E"/>
<ellipse cx="4262" cy="252" rx="8" ry="10" fill="#D08080"/>
<path d="M4197,396 V362 H4236" fill="none" stroke="#E0E0A0" stroke-width="7"/>
</g>
<rect x="4173" y="175" width="312" height="313" fill="none" stroke="#1F5C55" stroke-width="4"/>
<!-- top image 2 -->
<g clip-path="url(#ci2)">
<rect x="4517" y="175" width="312" height="313" fill="#fff"/>
<path d="M4794,175 Q4770,330 4739,490 L4835,490 L4835,175z" fill="#8E4F8E"/>
<path d="M4794,175 Q4770,330 4739,490" fill="none" stroke="#4A58A8" stroke-width="9"/>
<ellipse cx="4660" cy="248" rx="18" ry="28" fill="#3D1292"/>
<ellipse cx="4711" cy="211" rx="14" ry="20" fill="#3D1292"/>
<ellipse cx="4754" cy="278" rx="14" ry="24" fill="#3D1292"/>
<ellipse cx="4629" cy="345" rx="12" ry="22" fill="#3D1292"/>
<ellipse cx="4672" cy="389" rx="22" ry="35" fill="#3D1292"/>
<ellipse cx="4617" cy="396" rx="30" ry="18" transform="rotate(-45 4617 396)" fill="#A06A9E"/>
<path d="M4590,310 V282 H4620" fill="none" stroke="#E0E0A0" stroke-width="7"/>
</g>
<rect x="4517" y="175" width="312" height="313" fill="none" stroke="#F47070" stroke-width="4"/>
<!-- top image 3 -->
<g clip-path="url(#ci3)">
<rect x="4860" y="175" width="313" height="313" fill="#fff"/>
<path d="M4995,175 Q5080,250 5084,340 L5080,490 L5180,490 L5180,175z" fill="#8E4F8E"/>
<path d="M4995,175 Q5080,250 5084,340 L5080,490" fill="none" stroke="#4A58A8" stroke-width="9"/>
<rect x="5131" y="364" width="45" height="41" fill="#fff"/>
<ellipse cx="4958" cy="281" rx="12" ry="20" fill="#3D1292"/>
<ellipse cx="5041" cy="242" rx="12" ry="20" fill="#3D1292"/>
<ellipse cx="5061" cy="313" rx="14" ry="22" fill="#3D1292"/>
<ellipse cx="5013" cy="335" rx="12" ry="18" fill="#3D1292"/>
<ellipse cx="4962" cy="364" rx="14" ry="24" fill="#3D1292"/>
<ellipse cx="5057" cy="389" rx="12" ry="22" fill="#3D1292"/>
<ellipse cx="4931" cy="456" rx="12" ry="20" fill="#3D1292"/>
<ellipse cx="4920" cy="205" rx="25" ry="10" transform="rotate(40 4920 205)" fill="#A06A9E"/>
<path d="M4905,440 V412 H4935" fill="none" stroke="#E0E0A0" stroke-width="7"/>
<path d="M4938,290 V256 H4960" fill="none" stroke="#E0E0A0" stroke-width="7"/>
</g>
<rect x="4860" y="175" width="313" height="313" fill="none" stroke="#F7A030" stroke-width="4"/>

<!-- arrows top -->
<g stroke-width="3.5">
<line x1="4329" y1="555" x2="4329" y2="494" stroke="#1F5C55" marker-end="url(#cT)"/>
<line x1="4674" y1="555" x2="4674" y2="494" stroke="#F47070" marker-end="url(#cS)"/>
<line x1="5016" y1="555" x2="5016" y2="494" stroke="#F7A030" marker-end="url(#cO)"/>
<line x1="4327" y1="820" x2="4327" y2="762" stroke="#1F5C55" marker-end="url(#cT)"/>
<line x1="4673" y1="820" x2="4673" y2="762" stroke="#F47070" marker-end="url(#cS)"/>
<line x1="5016" y1="820" x2="5016" y2="762" stroke="#F7A030" marker-end="url(#cO)"/>
<line x1="4327" y1="1087" x2="4327" y2="1026" stroke="#1F5C55" marker-end="url(#cT)"/>
<line x1="4673" y1="1087" x2="4673" y2="1026" stroke="#F47070" marker-end="url(#cS)"/>
<line x1="5016" y1="1087" x2="5016" y2="1026" stroke="#F7A030" marker-end="url(#cO)"/>
<line x1="4327" y1="1353" x2="4327" y2="1293" stroke="#1F5C55" marker-end="url(#cT)"/>
<line x1="4673" y1="1353" x2="4673" y2="1293" stroke="#F47070" marker-end="url(#cS)"/>
<line x1="5016" y1="1353" x2="5016" y2="1293" stroke="#F7A030" marker-end="url(#cO)"/>
</g>
<!-- right boxes -->
<g stroke="#111" stroke-width="3.5">
<rect x="4177" y="561" width="991" height="192" rx="28" fill="#FFF2A6"/>
<rect x="4177" y="827" width="991" height="191" rx="28" fill="#98E0D8"/>
<rect x="4177" y="1093" width="991" height="191" rx="28" fill="#CCE6A6"/>
<rect x="4177" y="1359" width="991" height="192" rx="28" fill="#ADDEF2"/>
</g>
<g class="s" fill="#000">
<text x="4589" y="686" font-size="88" textLength="169" lengthAdjust="spacingAndGlyphs">MLP</text>
<text x="4268" y="947" font-size="82" textLength="812" lengthAdjust="spacingAndGlyphs">Feature Propagation</text>
<text x="4429" y="1214" font-size="82" textLength="489" lengthAdjust="spacingAndGlyphs">Transformer</text>
<text x="4248" y="1485" font-size="82" textLength="850" lengthAdjust="spacingAndGlyphs">Point 4D Convolution</text>
</g>
<g class="m" font-size="64" fill="#111">
<text x="4217" y="549">N</text>
<text x="4236" y="813">N</text>
<text x="4236" y="1080">N′</text>
<text x="4236" y="1345">N′</text>
<text x="4236" y="1607">N</text>
</g>
<!-- connectors conv -> bottom images -->
<g stroke-width="3.5" fill="none">
<path d="M4329,1623 V1553 L4660,1623" stroke="#1F5C55"/>
<path d="M4334,1623 L4673,1553 L5013,1623 M4673,1553 V1623" stroke="#F47070"/>
<path d="M4676,1623 L5016,1553 V1623" stroke="#F7A030"/>
</g>
<!-- bottom image 1 -->
<g clip-path="url(#ci4)">
<rect x="4171" y="1624" width="313" height="311" fill="#fff"/>
<polygon points="4480,1624 4490,1624 4490,1940 4400,1940" fill="#A09890"/>
<line x1="4480" y1="1624" x2="4400" y2="1940" stroke="#7A706A" stroke-width="6"/>
<ellipse cx="4323" cy="1725" rx="40" ry="18" transform="rotate(-50 4323 1725)" fill="#9A8A80"/>
<ellipse cx="4370" cy="1731" rx="22" ry="38" fill="#2E5E2A"/>
<ellipse cx="4264" cy="1712" rx="10" ry="14" fill="#333"/>
<path d="M4205,1852 V1822 H4240" fill="none" stroke="#404040" stroke-width="8"/>
<ellipse cx="4311" cy="1862" rx="18" ry="30" fill="#E02020"/>
<ellipse cx="4378" cy="1881" rx="20" ry="30" fill="#F0D020"/>
<ellipse cx="4270" cy="1875" rx="25" ry="10" transform="rotate(-40 4270 1875)" fill="#8A7A70"/>
</g>
<rect x="4171" y="1624" width="313" height="311" fill="none" stroke="#1F5C55" stroke-width="4"/>
<!-- bottom image 2 -->
<g clip-path="url(#ci5)">
<rect x="4517" y="1624" width="312" height="311" fill="#fff"/>
<path d="M4794,1624 Q4770,1780 4739,1940 L4835,1940 L4835,1624z" fill="#8A807A"/>
<path d="M4790,1650 Q4768,1790 4745,1930" fill="none" stroke="#eee" stroke-width="3"/>
<ellipse cx="4668" cy="1693" rx="20" ry="28" fill="#7A6A60"/>
<ellipse cx="4758" cy="1731" rx="14" ry="24" fill="#E02020"/>
<ellipse cx="4758" cy="1648" rx="14" ry="20" fill="#2E5E2A"/>
<ellipse cx="4676" cy="1849" rx="22" ry="35" fill="#2E6E2A"/>
<ellipse cx="4621" cy="1840" rx="40" ry="18" transform="rotate(-50 4621 1840)" fill="#9A8A80"/>
<path d="M4597,1770 V1740 H4625" fill="none" stroke="#7A9AA0" stroke-width="7"/>
</g>
<rect x="4517" y="1624" width="312" height="311" fill="none" stroke="#F47070" stroke-width="4"/>
<!-- bottom image 3 -->
<g clip-path="url(#ci6)">
<rect x="4862" y="1624" width="308" height="311" fill="#fff"/>
<path d="M5006,1624 Q5085,1700 5092,1790 L5092,1940 L5180,1940 L5180,1624z" fill="#8A8480"/>
<rect x="5135" y="1820" width="40" height="39" fill="#fff"/>
<ellipse cx="4998" cy="1706" rx="10" ry="14" fill="#E02020"/>
<ellipse cx="5061" cy="1846" rx="14" ry="24" fill="#E02020"/>
<ellipse cx="5064" cy="1769" rx="14" ry="22" fill="#2E5E2A"/>
<ellipse cx="4970" cy="1817" rx="18" ry="28" fill="#7A6A60"/>
<ellipse cx="4962" cy="1737" rx="14" ry="14" fill="#E8D8D8"/>
<ellipse cx="4955" cy="1655" rx="25" ry="10" transform="rotate(40 4955 1655)" fill="#6A5A55"/>
<path d="M4935,1755 V1725 H4960" fill="none" stroke="#7A9AA0" stroke-width="7"/>
<path d="M4895,1890 V1862 H4925" fill="none" stroke="#7A9AA0" stroke-width="7"/>
<ellipse cx="5140" cy="1740" rx="14" ry="20" fill="#D0A020"/>
</g>
<rect x="4862" y="1624" width="308" height="311" fill="none" stroke="#F7A030" stroke-width="4"/>
<!-- feedback -->
<path d="M5170,1782 H5207 V928 H5174" fill="none" stroke="#111" stroke-width="3" marker-end="url(#bk)"/>
</svg>
</body></html>
